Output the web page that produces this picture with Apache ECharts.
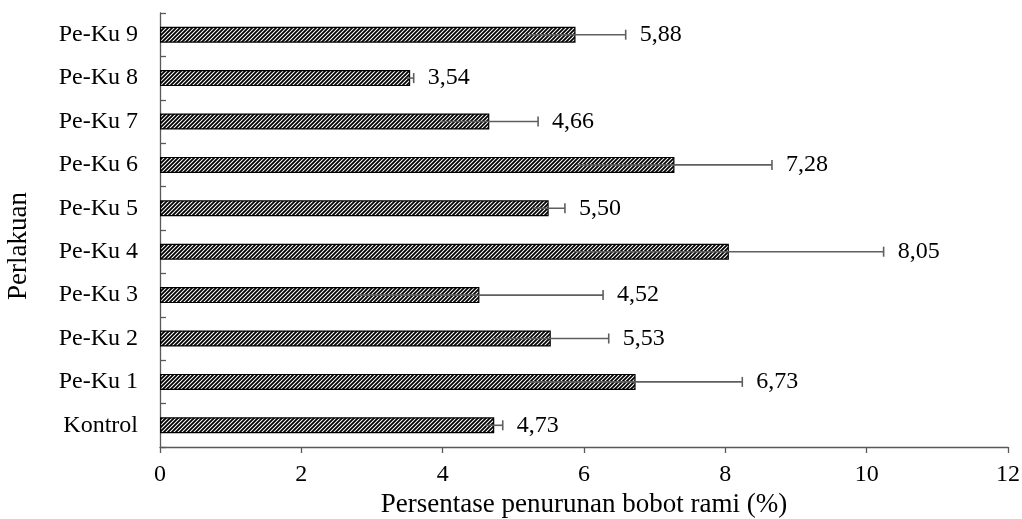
<!DOCTYPE html>
<html>
<head>
<meta charset="utf-8">
<script src="https://cdn.jsdelivr.net/npm/echarts@6/dist/echarts.min.js"></script>
<style>
html,body{margin:0;padding:0;background:#fff;}
#chart{width:1022px;height:519px;}
</style>
</head>
<body>
<div id="chart"></div>
<script>
var categories = ['Kontrol','Pe-Ku 1','Pe-Ku 2','Pe-Ku 3','Pe-Ku 4','Pe-Ku 5','Pe-Ku 6','Pe-Ku 7','Pe-Ku 8','Pe-Ku 9'];
var values = [4.73, 6.73, 5.53, 4.52, 8.05, 5.50, 7.28, 4.66, 3.54, 5.88];
var sdValues = [0.12, 1.51, 0.82, 1.75, 2.19, 0.23, 1.38, 0.69, 0.05, 0.71];
var valueLabels = ['4,73','6,73','5,53','4,52','8,05','5,50','7,28','4,66','3,54','5,88'];
var xTicks = [0, 2, 4, 6, 8, 10, 12];

var FONT = '"Liberation Serif", "Times New Roman", serif';

// hatch pattern
var pc = document.createElement('canvas');
pc.width = 4; pc.height = 4;
var ctx = pc.getContext('2d');
ctx.fillStyle = '#ffffff';
ctx.fillRect(0,0,4,4);
ctx.strokeStyle = '#000000';
ctx.lineWidth = 1.8;
ctx.beginPath();
ctx.moveTo(-1,5); ctx.lineTo(5,-1);
ctx.moveTo(-1,1); ctx.lineTo(1,-1);
ctx.moveTo(3,5); ctx.lineTo(5,3);
ctx.stroke();

var errData = values.map(function(v, i){ return [i, v - sdValues[i], v + sdValues[i], valueLabels[i]]; });

var chart = echarts.init(document.getElementById('chart'));
chart.setOption({
  animation: false,
  grid: {left: 160, right: 14, top: 13, bottom: 72, containLabel: false, outerBoundsMode: 'none'},
  graphic: [{
    type: 'text', x: 19, y: 246, rotation: Math.PI / 2,
    style: {text: 'Perlakuan', fontFamily: FONT, fontSize: 27, fill: '#000', textAlign: 'center', textVerticalAlign: 'middle'}
  }],
  xAxis: {
    type: 'value', min: xTicks[0], max: xTicks[xTicks.length-1], interval: 2,
    name: 'Persentase penurunan bobot rami (%)', nameLocation: 'middle', nameGap: 42,
    nameTextStyle: {fontFamily: FONT, fontSize: 27, color: '#000'},
    axisLine: {show: true, lineStyle: {color: '#595959', width: 1.3}},
    axisTick: {show: true, length: 6, lineStyle: {color: '#595959', width: 1.3}},
    axisLabel: {fontFamily: FONT, fontSize: 24, color: '#000', margin: 16},
    splitLine: {show: false}
  },
  yAxis: {
    type: 'category', data: categories,
    axisLine: {show: true, lineStyle: {color: '#595959', width: 1.3}},
    axisTick: {show: true, inside: true, length: 6, lineStyle: {color: '#595959', width: 1.3}},
    axisLabel: {fontFamily: FONT, fontSize: 24, color: '#000', margin: 22}
  },
  series: [{
    type: 'bar',
    data: values,
    barWidth: 16,
    itemStyle: {color: {image: pc, repeat: 'repeat'}, borderColor: '#000', borderWidth: 1.2}
  }, {
    type: 'custom',
    data: errData,
    encode: {y: 0, x: [1, 2]},
    z: 10,
    renderItem: function(params, api){
      var idx = api.value(0);
      var lo = api.coord([api.value(1), idx]);
      var hi = api.coord([api.value(2), idx]);
      var y = lo[1];
      var label = errData[params.dataIndex][3];
      return {
        type: 'group',
        children: [
          {type: 'line', shape: {x1: lo[0], y1: y, x2: hi[0], y2: y}, style: {stroke: '#5f5f5f', lineWidth: 1.6}},
          {type: 'line', shape: {x1: hi[0], y1: y - 5, x2: hi[0], y2: y + 5}, style: {stroke: '#5f5f5f', lineWidth: 1.6}},
          {type: 'text', x: hi[0] + 14, y: y, style: {text: label, fontFamily: FONT, fontSize: 24, fill: '#000', textVerticalAlign: 'middle', textAlign: 'left'}}
        ]
      };
    }
  }]
});
</script>
</body>
</html>
